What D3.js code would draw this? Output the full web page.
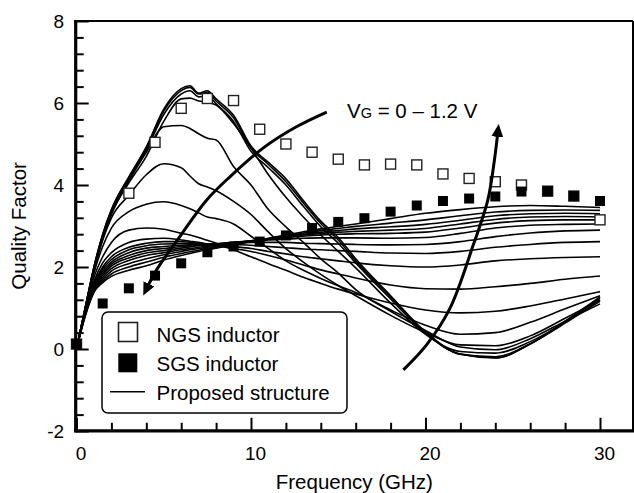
<!DOCTYPE html>
<html><head><meta charset="utf-8">
<script src="https://cdn.jsdelivr.net/npm/d3@7"></script>
<style>html,body{margin:0;padding:0;background:#fff;} svg{display:block;font-family:"Liberation Sans",Arial,Helvetica,sans-serif;}</style>
</head><body><svg id="chart" width="634" height="493"></svg>
<script>
// ---- data ----
const freqGrid = [0, 0.5, 1, 1.5, 2, 3, 4, 5, 6, 6.5, 7, 7.5, 8, 9, 10, 11, 12, 13, 14, 15, 16, 18, 20, 22, 24, 26, 28, 30];
// proposed structure, VG = 0 ... 1.2 V (one array per gate voltage)
const q00 = [0, 1.0, 2.0, 2.8, 3.4, 4.2, 4.93, 5.85, 6.35, 6.42, 6.24, 6.3, 6.1, 5.7, 4.95, 4.55, 4.15, 3.62, 3.12, 2.72, 2.2, 1.3, 0.42, -0.13, -0.22, 0.12, 0.68, 1.27];
const q01 = [0, 1.0, 2.0, 2.78, 3.38, 4.18, 4.9, 5.8, 6.3, 6.38, 6.22, 6.26, 6.05, 5.64, 4.9, 4.5, 4.08, 3.56, 3.06, 2.66, 2.15, 1.27, 0.4, -0.13, -0.21, 0.12, 0.66, 1.24];
const q02 = [0, 1.0, 1.98, 2.76, 3.35, 4.15, 4.85, 5.72, 6.22, 6.3, 6.15, 6.18, 5.98, 5.55, 4.82, 4.42, 4.0, 3.48, 2.98, 2.58, 2.1, 1.22, 0.38, -0.12, -0.19, 0.13, 0.63, 1.2];
const q03 = [0, 1.0, 1.95, 2.72, 3.3, 4.05, 4.7, 5.55, 6.1, 6.12, 6.05, 6.02, 5.95, 5.5, 4.9, 4.25, 3.7, 3.22, 2.78, 2.38, 1.98, 1.12, 0.36, -0.06, -0.1, 0.18, 0.65, 1.16];
const q04 = [0, 1.0, 1.95, 2.7, 3.28, 4.1, 4.8, 5.42, 5.45, 5.38, 5.25, 5.14, 5.1, 4.45, 4.0, 3.4, 2.98, 2.6, 2.2, 1.85, 1.45, 0.92, 0.45, 0.05, -0.02, 0.25, 0.68, 1.1];
const q05 = [0, 0.98, 1.9, 2.65, 3.2, 3.75, 4.25, 4.52, 4.42, 4.22, 4.03, 3.95, 3.86, 3.6, 3.28, 2.85, 2.45, 2.12, 1.82, 1.55, 1.3, 0.82, 0.4, 0.1, 0.08, 0.32, 0.75, 1.2];
const q06 = [0, 0.97, 1.85, 2.5, 2.95, 3.35, 3.53, 3.59, 3.5, 3.42, 3.32, 3.22, 3.18, 3.05, 2.75, 2.45, 2.15, 1.92, 1.72, 1.54, 1.38, 0.95, 0.58, 0.36, 0.4, 0.65, 0.98, 1.3];
const q07 = [0, 0.95, 1.75, 2.25, 2.6, 2.9, 2.95, 2.92, 2.82, 2.78, 2.72, 2.65, 2.58, 2.42, 2.25, 2.08, 1.92, 1.75, 1.6, 1.46, 1.34, 1.12, 0.95, 0.88, 0.92, 1.05, 1.22, 1.4];
const q08 = [0, 0.92, 1.65, 2.1, 2.35, 2.6, 2.68, 2.7, 2.66, 2.63, 2.6, 2.56, 2.52, 2.45, 2.38, 2.28, 2.17, 2.05, 1.93, 1.83, 1.73, 1.56, 1.47, 1.46, 1.52, 1.6, 1.7, 1.78];
const q09 = [0, 0.9, 1.6, 2.0, 2.25, 2.48, 2.58, 2.62, 2.62, 2.6, 2.58, 2.56, 2.55, 2.5, 2.45, 2.38, 2.32, 2.25, 2.2, 2.15, 2.1, 2.03, 2.0, 2.05, 2.15, 2.2, 2.23, 2.25];
const q10 = [0, 0.88, 1.55, 1.95, 2.18, 2.42, 2.52, 2.56, 2.57, 2.57, 2.56, 2.55, 2.55, 2.55, 2.53, 2.5, 2.47, 2.44, 2.42, 2.4, 2.38, 2.34, 2.33, 2.38, 2.48, 2.55, 2.6, 2.62];
const q11 = [0, 0.87, 1.52, 1.9, 2.12, 2.35, 2.46, 2.5, 2.53, 2.54, 2.55, 2.55, 2.56, 2.58, 2.6, 2.6, 2.6, 2.58, 2.57, 2.56, 2.55, 2.54, 2.55, 2.62, 2.74, 2.83, 2.88, 2.9];
const q12 = [0, 0.86, 1.5, 1.85, 2.07, 2.28, 2.4, 2.45, 2.5, 2.52, 2.54, 2.55, 2.57, 2.6, 2.63, 2.66, 2.68, 2.7, 2.71, 2.71, 2.71, 2.7, 2.72, 2.82, 2.95, 3.02, 3.04, 3.05];
const q13 = [0, 0.85, 1.47, 1.8, 2.02, 2.22, 2.34, 2.4, 2.46, 2.49, 2.52, 2.54, 2.56, 2.6, 2.64, 2.68, 2.72, 2.75, 2.78, 2.8, 2.81, 2.82, 2.85, 2.95, 3.07, 3.13, 3.15, 3.15];
const q14 = [0, 0.84, 1.45, 1.75, 1.96, 2.16, 2.28, 2.35, 2.42, 2.45, 2.48, 2.51, 2.54, 2.59, 2.64, 2.69, 2.74, 2.78, 2.82, 2.85, 2.87, 2.9, 2.94, 3.05, 3.16, 3.22, 3.23, 3.22];
const q15 = [0, 0.83, 1.42, 1.7, 1.9, 2.08, 2.2, 2.3, 2.38, 2.42, 2.45, 2.48, 2.51, 2.57, 2.63, 2.69, 2.75, 2.8, 2.85, 2.89, 2.93, 2.98, 3.04, 3.14, 3.25, 3.3, 3.31, 3.3];
const q16 = [0, 0.82, 1.4, 1.66, 1.83, 2.0, 2.12, 2.24, 2.33, 2.37, 2.41, 2.44, 2.48, 2.55, 2.62, 2.69, 2.76, 2.83, 2.89, 2.94, 2.99, 3.07, 3.15, 3.25, 3.34, 3.38, 3.39, 3.38];
const q17 = [0, 0.8, 1.38, 1.62, 1.77, 1.92, 2.03, 2.17, 2.28, 2.33, 2.38, 2.42, 2.46, 2.54, 2.62, 2.7, 2.78, 2.86, 2.93, 2.99, 3.05, 3.18, 3.31, 3.4, 3.47, 3.5, 3.48, 3.45];
const proposedSeries = [q00, q01, q02, q03, q04, q05, q06, q07, q08, q09, q10, q11, q12, q13, q14, q15, q16, q17];

const ngsFreq = [0, 3, 4.5, 6, 7.5, 9, 10.5, 12, 13.5, 15, 16.5, 18, 19.5, 21, 22.5, 24, 25.5, 27, 28.5, 30];
const ngsQ    = [0.12, 3.80, 5.04, 5.87, 6.11, 6.06, 5.36, 5.0, 4.8, 4.63, 4.49, 4.51, 4.49, 4.27, 4.16, 4.08, 4.0, 3.85, 3.73, 3.15];
const sgsFreq = [0, 1.5, 3, 4.5, 6, 7.5, 9, 10.5, 12, 13.5, 15, 16.5, 18, 19.5, 21, 22.5, 24, 25.5, 27, 28.5, 30];
const sgsQ    = [0.12, 1.11, 1.48, 1.79, 2.09, 2.36, 2.5, 2.62, 2.77, 2.95, 3.10, 3.19, 3.35, 3.50, 3.61, 3.67, 3.72, 3.84, 3.85, 3.73, 3.61];

const arrow1F = [14.34, 12.6, 10.69, 8.79, 7.45, 5.92, 4.59, 4.05];
const arrow1Q = [5.78, 5.42, 4.9, 4.2, 3.63, 2.74, 1.93, 1.5];
const arrow2F = [18.73, 20.06, 21.4, 22.74, 23.57, 23.95, 24.14];
const arrow2Q = [-0.51, 0.10, 0.99, 2.54, 3.63, 4.61, 5.27];

const xMajorTicks = [0, 10, 20, 30];
const xMinorTicks = [2, 4, 6, 8, 12, 14, 16, 18, 22, 24, 26, 28];
const yMajorTicks = [-2, 0, 2, 4, 6, 8];
const yMinorTicks = [-1.6, -1.2, -0.8, -0.4, 0.4, 0.8, 1.2, 1.6, 2.4, 2.8, 3.2, 3.6, 4.4, 4.8, 5.2, 5.6, 6.4, 6.8, 7.2, 7.6];
const legendLabels = ["NGS inductor", "SGS inductor", "Proposed structure"];

// ---- drawing ----
const svg = d3.select('#chart');
const x = d3.scaleLinear().domain([0, 30]).range([76.5, 600]);
const y = d3.scaleLinear().domain([-2, 8]).range([431, 21]);
const frame = {left: 75.7, right: 633, top: 21, bottom: 430.8};

// curves
const line = d3.line().x((d, i) => x(freqGrid[i])).y(d => y(d)).curve(d3.curveMonotoneX);
svg.append('g').selectAll('path').data(proposedSeries).join('path')
  .attr('d', line).attr('fill', 'none').attr('stroke', '#000').attr('stroke-width', 1.6)
  .attr('stroke-linejoin', 'round');

// NGS (open) squares
const sq = 10;
svg.append('g').selectAll('rect').data(ngsQ).join('rect')
  .attr('x', (d, i) => x(ngsFreq[i]) - sq / 2).attr('y', d => y(d) - sq / 2)
  .attr('width', sq).attr('height', sq)
  .attr('fill', '#fff').attr('stroke', '#222').attr('stroke-width', 1.4);
// SGS (filled) squares
svg.append('g').selectAll('rect').data(sgsQ).join('rect')
  .attr('x', (d, i) => x(sgsFreq[i]) - sq / 2).attr('y', d => y(d) - sq / 2)
  .attr('width', sq).attr('height', sq).attr('fill', '#000');

// arrows
const defs = svg.append('defs');
defs.append('marker').attr('id', 'ah').attr('markerUnits', 'userSpaceOnUse')
  .attr('markerWidth', 16).attr('markerHeight', 14).attr('refX', 4).attr('refY', 6)
  .attr('orient', 'auto').attr('viewBox', '0 0 16 12')
  .append('path').attr('d', 'M0,0 L13,6 L0,12 Z').attr('fill', '#000');
const aLine = d3.line().curve(d3.curveCatmullRom);
[[arrow1F, arrow1Q], [arrow2F, arrow2Q]].forEach(([fs, qs]) => {
  svg.append('path').attr('d', aLine(fs.map((f, i) => [x(f), y(qs[i])])))
    .attr('fill', 'none').attr('stroke', '#000').attr('stroke-width', 3)
    .attr('marker-end', 'url(#ah)');
});

// annotation
const ann = svg.append('text').attr('x', 347).attr('y', 118).attr('font-size', 20.5).attr('fill', '#000');
ann.append('tspan').text('V');
ann.append('tspan').attr('font-size', 14.5).text('G');
ann.append('tspan').text(' = 0 \u2013 1.2 V');

// axes ticks
const gY = svg.append('g').attr('transform', `translate(${frame.left},0)`);
gY.call(d3.axisLeft(y).tickValues(yMajorTicks).tickSize(-13).tickPadding(11.5).tickFormat(d3.format('d')));
const gYm = svg.append('g').attr('transform', `translate(${frame.left},0)`);
gYm.call(d3.axisLeft(y).tickValues(yMinorTicks).tickSize(-8).tickFormat(''));
const gX = svg.append('g').attr('transform', `translate(0,${frame.bottom})`);
gX.call(d3.axisBottom(x).tickValues(xMajorTicks).tickSize(-13).tickPadding(15.5).tickFormat(d3.format('d')));
const gXm = svg.append('g').attr('transform', `translate(0,${frame.bottom})`);
gXm.call(d3.axisBottom(x).tickValues(xMinorTicks).tickSize(-8).tickFormat(''));
[gY, gYm, gX, gXm].forEach(g => {
  g.select('.domain').remove();
  g.selectAll('line').attr('stroke', '#000').attr('stroke-width', 2);
  g.selectAll('text').attr('font-size', 19).attr('fill', '#000')
    .attr('font-family', '"Liberation Sans", Arial, sans-serif');
});
gY.selectAll('text').text(d => d < 0 ? '-' + Math.abs(d) : d);
gX.selectAll('text').attr('dx', 4);

// frame
svg.append('line').attr('x1', frame.left - 1.5).attr('x2', frame.right).attr('y1', frame.top).attr('y2', frame.top).attr('stroke', '#000').attr('stroke-width', 2.2);
svg.append('line').attr('x1', frame.right).attr('x2', frame.right).attr('y1', frame.top).attr('y2', frame.bottom).attr('stroke', '#000').attr('stroke-width', 2);
svg.append('line').attr('x1', frame.left).attr('x2', frame.left).attr('y1', frame.top - 1).attr('y2', frame.bottom + 1.5).attr('stroke', '#000').attr('stroke-width', 3.2);
svg.append('line').attr('x1', frame.left - 1.5).attr('x2', frame.right + 1).attr('y1', frame.bottom).attr('y2', frame.bottom).attr('stroke', '#000').attr('stroke-width', 3.2);

// axis titles
svg.append('text').attr('x', (frame.left + frame.right) / 2).attr('y', 489).attr('text-anchor', 'middle')
  .attr('font-size', 20.5).text('Frequency (GHz)');
svg.append('text').attr('transform', `translate(26,${(frame.top + frame.bottom) / 2}) rotate(-90)`)
  .attr('text-anchor', 'middle').attr('font-size', 20.5).text('Quality Factor');

// legend
const lg = svg.append('g');
lg.append('rect').attr('x', 102).attr('y', 312).attr('width', 245).attr('height', 101).attr('rx', 6)
  .attr('fill', '#fff').attr('stroke', '#000').attr('stroke-width', 1.5);
lg.append('rect').attr('x', 118.5).attr('y', 322.5).attr('width', 19).attr('height', 19)
  .attr('fill', '#fff').attr('stroke', '#222').attr('stroke-width', 1.6);
lg.append('rect').attr('x', 118.3).attr('y', 353.3).attr('width', 19).attr('height', 19).attr('fill', '#000');
lg.append('line').attr('x1', 110).attr('x2', 145).attr('y1', 391.7).attr('y2', 391.7).attr('stroke', '#000').attr('stroke-width', 1.6);
const lgY = [341.5, 371, 400];
lg.selectAll('text.lt').data(legendLabels).join('text').attr('class', 'lt')
  .attr('x', 156.5).attr('y', (d, i) => lgY[i]).attr('font-size', 20.5).text(d => d);
</script></body></html>
